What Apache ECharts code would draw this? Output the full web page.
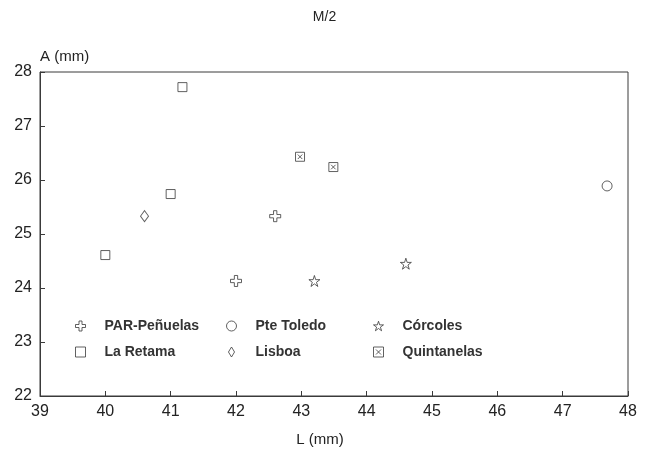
<!DOCTYPE html>
<html>
<head>
<meta charset="utf-8">
<script src="https://cdn.jsdelivr.net/npm/echarts@6/dist/echarts.min.js"></script>
<style>html,body{margin:0;padding:0;background:#fff;}#c{width:649px;height:450px;}</style>
</head>
<body>
<div id="c"></div>
<script>
// Data: [L (mm), A (mm)]
const parPenuelas = [[42.0, 24.13], [42.6, 25.33]];
const pteToledo   = [[47.68, 25.89]];
const corcoles    = [[43.2, 24.13], [44.6, 24.45]];
const laRetama    = [[40.0, 24.61], [41.0, 25.74], [41.18, 27.72]];
const lisboa      = [[40.6, 25.33]];
const quintanelas = [[42.98, 26.43], [43.49, 26.24]];
const xTicks = [39, 40, 41, 42, 43, 44, 45, 46, 47, 48];
const yTicks = [22, 23, 24, 25, 26, 27, 28];

const ink = '#3a3a3a';
const FONT = 'Liberation Sans';

const symbols = {
  plus: 'path://M-0.3,-1 L0.3,-1 L0.3,-0.3 L1,-0.3 L1,0.3 L0.3,0.3 L0.3,1 L-0.3,1 L-0.3,0.3 L-1,0.3 L-1,-0.3 L-0.3,-0.3 Z',
  square: 'path://M-1,-1 L1,-1 L1,1 L-1,1 Z',
  diamond: 'path://M0,-1.4 L0.85,0 L0,1.4 L-0.85,0 Z',
  star: 'path://M0,-1 L0.2245,-0.309 L0.951,-0.309 L0.363,0.118 L0.588,0.809 L0,0.382 L-0.588,0.809 L-0.363,0.118 L-0.951,-0.309 L-0.2245,-0.309 Z',
  boxx: 'path://M-1,-1 L1,-1 L1,1 L-1,1 Z M-0.5,-0.5 L0.5,0.5 M0.5,-0.5 L-0.5,0.5'
};

function mk(name, data, symbol, size) {
  return {
    name: name, type: 'scatter', data: data, symbol: symbol, symbolSize: size,
    itemStyle: { color: 'rgba(255,255,255,0)', borderColor: ink, borderWidth: 1 },
    emphasis: { disabled: true }
  };
}

const chart = echarts.init(document.getElementById('c'));
const legendBase = {
  orient: 'vertical', top: 319, padding: 0, itemGap: 12, itemWidth: 10, itemHeight: 10,
  itemStyle: { borderWidth: 1, color: 'rgba(255,255,255,0)', borderColor: ink },
  textStyle: { fontFamily: FONT, fontSize: 14, fontWeight: 'bold', color: '#333', padding: [0, 0, 0, 14] },
  selectedMode: false
};
chart.setOption({
  animation: false,
  backgroundColor: '#fff',
  title: { text: 'M/2', left: 'center', top: 5, textStyle: { fontFamily: FONT, fontSize: 14, fontWeight: 'normal', color: '#222' } },
  grid: { left: 40, right: 21, top: 72, bottom: 54, outerBoundsMode: 'none', containLabel: false },
  legend: [
    Object.assign({}, legendBase, { left: 75, data: ['PAR-Peñuelas', 'La Retama'] }),
    Object.assign({}, legendBase, { left: 226, data: ['Pte Toledo', 'Lisboa'] }),
    Object.assign({}, legendBase, { left: 373, data: ['Córcoles', 'Quintanelas'] })
  ],
  xAxis: {
    type: 'value', min: xTicks[0], max: xTicks[xTicks.length - 1], interval: 1,
    name: 'L (mm)', nameLocation: 'middle', nameGap: 36,
    nameTextStyle: { fontFamily: FONT, fontSize: 15, color: '#222', padding: [0, 28, 0, 0] },
    axisLine: { show: true, onZero: false, lineStyle: { color: ink, width: 1 } },
    axisTick: { show: true, inside: true, length: 5, lineStyle: { color: ink } },
    axisLabel: { fontFamily: FONT, fontSize: 16, color: '#222', margin: 8 },
    splitLine: { show: false }
  },
  yAxis: {
    type: 'value', min: yTicks[0], max: yTicks[yTicks.length - 1], interval: 1,
    name: 'A (mm)', nameLocation: 'end', nameGap: 8,
    nameTextStyle: { fontFamily: FONT, fontSize: 15, color: '#222', align: 'left', padding: [0, 0, 0, 0] },
    axisLine: { show: true, onZero: false, lineStyle: { color: ink, width: 1 } },
    axisTick: { show: true, inside: true, length: 5, lineStyle: { color: ink } },
    axisLabel: { fontFamily: FONT, fontSize: 16, color: '#222', margin: 8 },
    splitLine: { show: false }
  },
  graphic: [{
    type: 'rect', shape: { x: 40, y: 72, width: 588, height: 324 },
    style: { fill: 'none', stroke: ink, lineWidth: 1 }, silent: true, z: 0
  }],
  series: [
    mk('PAR-Peñuelas', parPenuelas, symbols.plus, 11),
    mk('Pte Toledo', pteToledo, 'circle', 10),
    mk('Córcoles', corcoles, symbols.star, 11),
    mk('La Retama', laRetama, symbols.square, 9),
    mk('Lisboa', lisboa, symbols.diamond, [8, 11]),
    mk('Quintanelas', quintanelas, symbols.boxx, 9)
  ]
});
</script>
</body>
</html>
